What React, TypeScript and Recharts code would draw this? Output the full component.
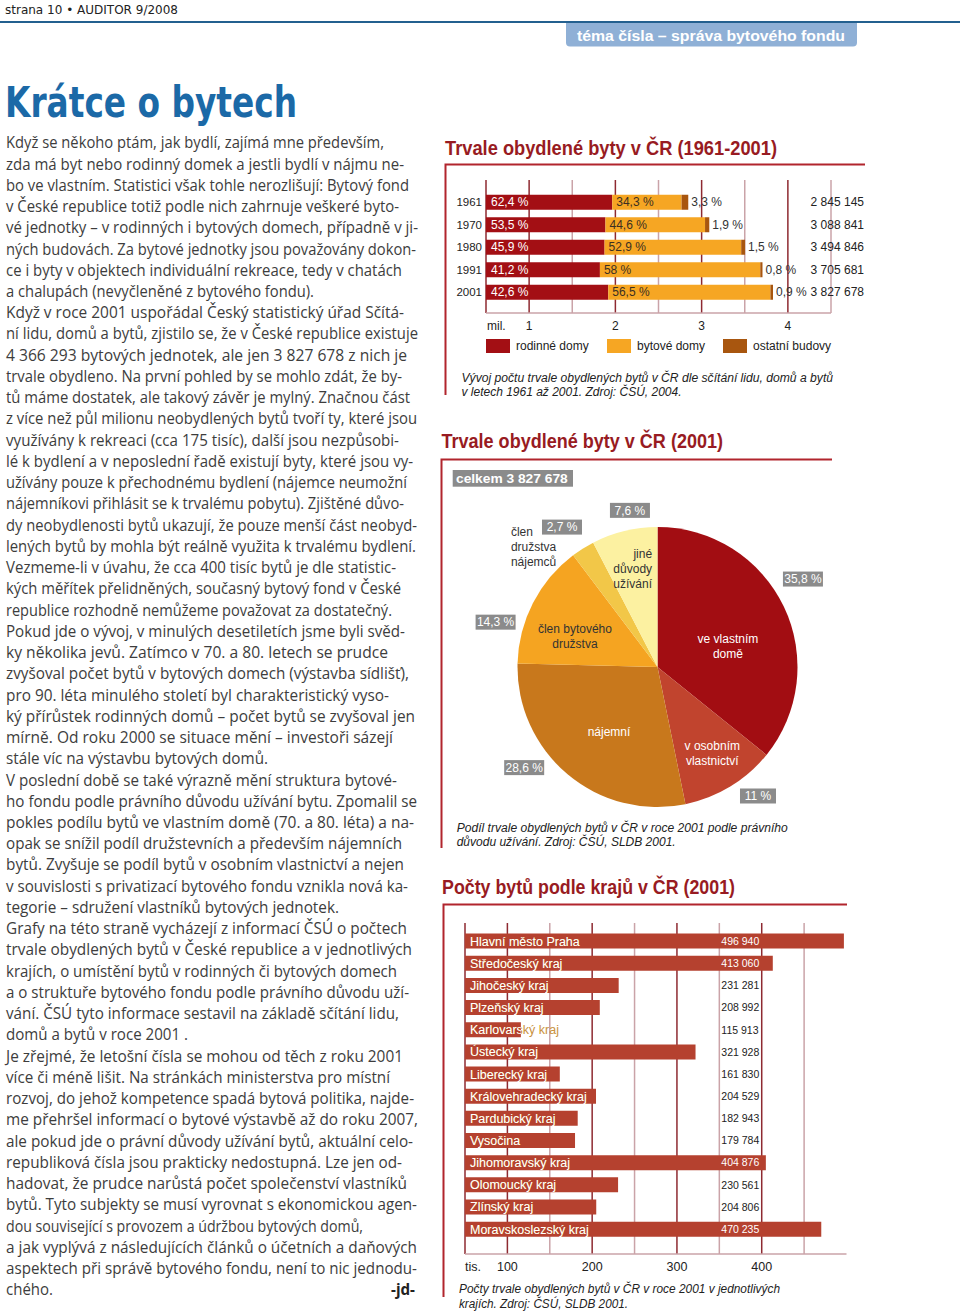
import React from "react"
import {
  BarChart,
  Bar,
  XAxis,
  YAxis,
  CartesianGrid,
  LabelList,
  Legend,
  PieChart,
  Pie,
  Cell,
} from "recharts"

const ARIAL = "'Liberation Sans', Arial, Helvetica, sans-serif"
const BODY = "'Open Sans', 'Noto Sans', sans-serif"
const NARROW = "'Liberation Sans Narrow', 'DejaVu Sans Condensed', 'Liberation Sans', sans-serif"
const GRID_DARK = "#8e2a31"
const GRID_LIGHT = "#caa3a8"
const FRAME = "#b1252d"
const TITLE_RED = "#981b22"
const BOX_GRAY = "#8b8b8b"

// Trvale obydlené byty v ČR (1961-2001)
const years = ["1961", "1970", "1980", "1991", "2001"]
const rodinneDomy = [62.4, 53.5, 45.9, 41.2, 42.6]
const bytoveDomy = [34.3, 44.6, 52.9, 58, 56.5]
const ostatniBudovy = [3.3, 1.9, 1.5, 0.8, 0.9]
const celkem = [2845145, 3088841, 3494846, 3705681, 3827678]
const milTicks = [0.5, 1, 1.5, 2, 2.5, 3, 3.5, 4, 4.5]

// Trvale obydlené byty v ČR (2001), podle právního důvodu užívání
const duvody = [
  "ve vlastním domě",
  "v osobním vlastnictví",
  "nájemní",
  "člen bytového družstva",
  "člen družstva nájemců",
  "jiné důvody užívání",
]
const podily = [35.8, 11, 28.6, 14.3, 2.7, 7.6]

// Počty bytů podle krajů v ČR (2001)
const kraje = [
  "Hlavní město Praha",
  "Středočeský kraj",
  "Jihočeský kraj",
  "Plzeňský kraj",
  "Karlovarský kraj",
  "Ústecký kraj",
  "Liberecký kraj",
  "Královehradecký kraj",
  "Pardubický kraj",
  "Vysočina",
  "Jihomoravský kraj",
  "Olomoucký kraj",
  "Zlínský kraj",
  "Moravskoslezský kraj",
]
const bytyKraje = [496940, 413060, 231281, 208992, 115913, 321928, 161830, 204529, 182943, 179784, 404876, 230561, 204806, 470235]
const tisTicks = [50, 100, 150, 200, 250, 300, 350, 400, 450]
const TIS_MAX = 500

const articleLines = [
  "Když se někoho ptám, jak bydlí, zajímá mne především,",
  "zda má byt nebo rodinný domek a jestli bydlí v nájmu ne-",
  "bo ve vlastním. Statistici však tohle nerozlišují: Bytový fond",
  "v České republice totiž podle nich zahrnuje veškeré byto-",
  "vé jednotky – v rodinných i bytových domech, případně v ji-",
  "ných budovách. Za bytové jednotky jsou považovány dokon-",
  "ce i byty v objektech individuální rekreace, tedy v chatách",
  "a chalupách (nevyčleněné z bytového fondu).",
  "Když v roce 2001 uspořádal Český statistický úřad Sčítá-",
  "ní lidu, domů a bytů, zjistilo se, že v České republice existuje",
  "4 366 293 bytových jednotek, ale jen 3 827 678 z nich je",
  "trvale obydleno. Na první pohled by se mohlo zdát, že by-",
  "tů máme dostatek, ale takový závěr je mylný. Značnou část",
  "z více než půl milionu neobydlených bytů tvoří ty, které jsou",
  "využívány k rekreaci (cca 175 tisíc), další jsou nezpůsobi-",
  "lé k bydlení a v neposlední řadě existují byty, které jsou vy-",
  "užívány pouze k přechodnému bydlení (nájemce neumožní",
  "nájemníkovi přihlásit se k trvalému pobytu). Zjištěné důvo-",
  "dy neobydlenosti bytů ukazují, že pouze menší část neobyd-",
  "lených bytů by mohla být reálně využita k trvalému bydlení.",
  "Vezmeme-li v úvahu, že cca 400 tisíc bytů je dle statistic-",
  "kých měřítek přelidněných, současný bytový fond v České",
  "republice rozhodně nemůžeme považovat za dostatečný.",
  "Pokud jde o vývoj, v minulých desetiletích jsme byli svěd-",
  "ky několika jevů. Zatímco v 70. a 80. letech se prudce",
  "zvyšoval počet bytů v bytových domech (výstavba sídlišť),",
  "pro 90. léta minulého století byl charakteristický vyso-",
  "ký přírůstek rodinných domů – počet bytů se zvyšoval jen",
  "mírně. Od roku 2000 se situace mění – investoři sázejí",
  "stále víc na výstavbu bytových domů.",
  "V poslední době se také výrazně mění struktura bytové-",
  "ho fondu podle právního důvodu užívání bytu. Zpomalil se",
  "pokles podílu bytů ve vlastním domě (70. a 80. léta) a na-",
  "opak se snížil podíl družstevních a především nájemních",
  "bytů. Zvyšuje se podíl bytů v osobním vlastnictví a nejen",
  "v souvislosti s privatizací bytového fondu vznikla nová ka-",
  "tegorie – sdružení vlastníků bytových jednotek.",
  "Grafy na této straně vycházejí z informací ČSÚ o počtech",
  "trvale obydlených bytů v České republice a v jednotlivých",
  "krajích, o umístění bytů v rodinných či bytových domech",
  "a o struktuře bytového fondu podle právního důvodu uží-",
  "vání. ČSÚ tyto informace sestavil na základě sčítání lidu,",
  "domů a bytů v roce 2001 .",
  "Je zřejmé, že letošní čísla se mohou od těch z roku 2001",
  "více či méně lišit. Na stránkách ministerstva pro místní",
  "rozvoj, do jehož kompetence spadá bytová politika, najde-",
  "me přehršel informací o bytové výstavbě až do roku 2007,",
  "ale pokud jde o právní důvody užívání bytů, aktuální celo-",
  "republiková čísla jsou prakticky nedostupná. Lze jen od-",
  "hadovat, že prudce narůstá počet společenství vlastníků",
  "bytů. Tyto subjekty se musí vyrovnat s ekonomickou agen-",
  "dou související s provozem a údržbou bytových domů,",
  "a jak vyplývá z následujících článků o účetních a daňových",
  "aspektech při správě bytového fondu, není to nic jednodu-",
  "chého.",
]
// right edge of each printed line (layout only)
const articleLineEnds = [
  384, 404, 409, 399, 418, 416, 402, 314, 404, 418, 407, 402, 410, 417, 399, 413, 407, 404, 417, 416,
  396, 401, 392, 405, 388, 409, 389, 415, 393, 268, 397, 417, 414, 402, 404, 408, 339, 407, 412, 397,
  409, 399, 188, 403, 390, 414, 418, 413, 402, 407, 417, 363, 417, 417, 53,
]

const fmtPct = (v: number) => `${String(v).replace(".", ",")} %`
const fmtNum = (n: number) => String(n).replace(/\B(?=(\d{3})+(?!\d))/g, " ")

// the first chart's bars start at the 0.5 mil. line; shares split the visible length
const MIL_FROM = 0.5
const vyvojData = years.map((rok, i) => {
  const span = celkem[i] / 1e6 - MIL_FROM
  return {
    rok,
    pR: rodinneDomy[i],
    pB: bytoveDomy[i],
    pO: ostatniBudovy[i],
    r: MIL_FROM + (span * rodinneDomy[i]) / 100,
    b: (span * bytoveDomy[i]) / 100,
    o: (span * ostatniBudovy[i]) / 100,
  }
})

const pieColors = ["#a20d12", "#c1442e", "#c8781c", "#f5a421", "#f2c748", "#fcf1a1"]
const pieData = duvody.map((name, i) => ({ name, value: podily[i] }))

const krajData = kraje.map((kraj, i) => ({
  kraj,
  byty: bytyKraje[i],
  tis: bytyKraje[i] / 1000,
}))

const vyvojSeries = [
  { key: "r", name: "rodinné domy", color: "#a30f14" },
  { key: "b", name: "bytové domy", color: "#f6a623" },
  { key: "o", name: "ostatní budovy", color: "#a8560f" },
]

// darker lines on whole units, lighter ones in between
const gridColor = (i: number) => (i === 0 || i % 2 === 1 ? GRID_DARK : GRID_LIGHT)

const gridLine = (props: any) => {
  const { x1, y1, x2, y2, index } = props
  return <line key={`g-${index}`} x1={x1} y1={y1} x2={x2} y2={y2} stroke={gridColor(index)} strokeWidth={1.5} />
}

// regions chart: no line at the plot's right edge (500), only at the ticks
const krajGridLine = (props: any) =>
  props.index >= tisTicks.length ? <g key={`g-${props.index}`} /> : gridLine(props)

const box = (p: any) => p.viewBox ?? p

const MilTick = ({ x, y, payload }: any) => {
  const v = payload.value
  const style = { fontFamily: ARIAL, fontSize: 12, fill: "#222" }
  if (v === MIL_FROM) {
    return (
      <text x={x + 1} y={y + 17} {...style}>
        mil.
      </text>
    )
  }
  if (Number.isInteger(v)) {
    return (
      <text x={x} y={y + 17} textAnchor="middle" {...style}>
        {v}
      </text>
    )
  }
  return <g />
}

const TotalTick = ({ x, y, payload }: any) => {
  const i = years.indexOf(payload.value)
  return (
    <text x={x + 33} y={y} dy="0.35em" textAnchor="end" fontFamily={ARIAL} fontSize={12} fill="#222">
      {fmtNum(celkem[i])}
    </text>
  )
}

const RodinneLabel = (props: any) => {
  const { x, y, height } = box(props)
  return (
    <text x={x + 5} y={y + height / 2} dy="0.35em" fontFamily={ARIAL} fontSize={12} fill="#fff">
      {fmtPct(props.value)}
    </text>
  )
}

const BytoveLabel = (props: any) => {
  const { x, y, height } = box(props)
  return (
    <text x={x + 4} y={y + height / 2} dy="0.35em" fontFamily={ARIAL} fontSize={12} fill="#3b2f22">
      {fmtPct(props.value)}
    </text>
  )
}

const OstatniLabel = (props: any) => {
  const { x, y, width, height } = box(props)
  return (
    <text x={x + width + 3} y={y + height / 2} dy="0.35em" fontFamily={ARIAL} fontSize={12} fill="#333">
      {fmtPct(props.value)}
    </text>
  )
}

const legendWidths = [121, 116, 130]
const VyvojLegend = () => (
  <div style={{ display: "flex", height: 16, alignItems: "center", fontFamily: ARIAL, fontSize: 12, color: "#222" }}>
    {vyvojSeries.map((s, i) => (
      <span key={s.key} style={{ display: "flex", alignItems: "center", width: legendWidths[i], whiteSpace: "nowrap" }}>
        <span style={{ display: "inline-block", width: 24, height: 14, background: s.color, marginRight: 6 }} />
        {s.name}
      </span>
    ))}
  </div>
)

const VyvojChart = () => (
  <BarChart
    width={440}
    height={184}
    data={vyvojData}
    layout="vertical"
    barSize={15}
    margin={{ top: 10, right: 0, bottom: 0, left: 0 }}
  >
    <CartesianGrid horizontal={false} vertical={gridLine} />
    <XAxis
      type="number"
      domain={[MIL_FROM, 4.5]}
      ticks={milTicks}
      interval={0}
      allowDataOverflow
      height={25}
      tickLine={false}
      tickSize={0}
      tickMargin={0}
      axisLine={{ stroke: GRID_LIGHT, strokeWidth: 1.5 }}
      tick={MilTick}
    />
    <YAxis
      type="category"
      dataKey="rok"
      width={46}
      interval={0}
      padding={{ top: 10.75, bottom: 9.75 }}
      axisLine={false}
      tickLine={false}
      tickSize={0}
      tickMargin={4}
      tick={{ fontFamily: ARIAL, fontSize: 11.5, fill: "#222" }}
    />
    <YAxis
      yAxisId="celkem"
      orientation="right"
      type="category"
      dataKey="rok"
      width={49}
      interval={0}
      padding={{ top: 10.75, bottom: 9.75 }}
      axisLine={false}
      tickLine={false}
      tickSize={0}
      tickMargin={0}
      tick={TotalTick}
    />
    <Legend verticalAlign="bottom" align="left" content={VyvojLegend} wrapperStyle={{ left: 46, bottom: 0, width: 394, height: 16 }} />
    <Bar dataKey="r" name="rodinné domy" stackId="a" fill={vyvojSeries[0].color} isAnimationActive={false}>
      <LabelList dataKey="pR" content={RodinneLabel} />
    </Bar>
    <Bar dataKey="b" name="bytové domy" stackId="a" fill={vyvojSeries[1].color} isAnimationActive={false}>
      <LabelList dataKey="pB" content={BytoveLabel} />
    </Bar>
    <Bar dataKey="o" name="ostatní budovy" stackId="a" fill={vyvojSeries[2].color} isAnimationActive={false}>
      <LabelList dataKey="pO" content={OstatniLabel} />
    </Bar>
  </BarChart>
)

// label placement around the pie: turn (deg, clockwise) and radius factor
const pieLabelLayout = [
  { boxTurn: -5.6, boxR: 1.214, textTurn: 9, textR: 0.525, anchor: "middle", color: "#fff", lines: ["ve vlastním", "domě"] },
  { boxTurn: -6.6, boxR: 1.168, textTurn: -1.1, textR: 0.73, anchor: "middle", color: "#fff", lines: ["v osobním", "vlastnictví"] },
  { boxTurn: 13, boxR: 1.193, textTurn: -3.3, textR: 0.58, anchor: "middle", color: "#fff", lines: ["nájemní"] },
  { boxTurn: -11.7, boxR: 1.2, textTurn: -6.6, textR: 0.63, anchor: "middle", color: "#333", lines: ["člen bytového", "družstva"] },
  { boxTurn: -2.1, boxR: 1.21, textTurn: -18.5, textR: 1.353, anchor: "start", color: "#333", lines: ["člen", "družstva", "nájemců"] },
  { boxTurn: 3.7, boxR: 1.136, textTurn: 10.5, textR: 0.7, anchor: "end", color: "#333", lines: ["jiné", "důvody", "užívání"] },
]

const RAD = Math.PI / 180
const polar = (cx: number, cy: number, r: number, angle: number) => ({
  x: cx + r * Math.cos(-angle * RAD),
  y: cy + r * Math.sin(-angle * RAD),
})

const PieLabel = (props: any) => {
  const { cx, cy, midAngle, outerRadius, index, value } = props
  const L = pieLabelLayout[index]
  const b = polar(cx, cy, outerRadius * L.boxR, midAngle - L.boxTurn)
  const t = polar(cx, cy, outerRadius * L.textR, midAngle - L.textTurn)
  const txt = fmtPct(value)
  const w = txt.length >= 5 ? 40 : 36
  const lh = 15
  return (
    <g>
      <rect x={b.x - w / 2} y={b.y - 7.5} width={w} height={15} fill={BOX_GRAY} />
      <text x={b.x} y={b.y} dy="0.36em" textAnchor="middle" fontFamily={ARIAL} fontSize={12} fill="#fff">
        {txt}
      </text>
      {L.lines.map((line, i) => (
        <text
          key={line}
          x={t.x}
          y={t.y + (i - (L.lines.length - 1) / 2) * lh}
          dy="0.36em"
          textAnchor={L.anchor}
          fontFamily={ARIAL}
          fontSize={12}
          fill={L.color}
        >
          {line}
        </text>
      ))}
    </g>
  )
}

const DuvodyChart = () => (
  <PieChart width={420} height={380} margin={{ top: 0, right: 0, bottom: 0, left: 0 }}>
    <Pie
      data={pieData}
      dataKey="value"
      nameKey="name"
      cx={216.5}
      cy={207}
      outerRadius={140}
      startAngle={90}
      endAngle={-270}
      stroke="none"
      label={PieLabel}
      labelLine={false}
      isAnimationActive={false}
    >
      {pieData.map((d, i) => (
        <Cell key={d.name} fill={pieColors[i]} />
      ))}
    </Pie>
  </PieChart>
)

const TisTick = ({ x, y, payload }: any) => {
  const v = payload.value
  const style = { fontFamily: ARIAL, fontSize: 12.5, fill: "#222" }
  if (v === tisTicks[0]) {
    return (
      <text x={x} y={y + 16.5} {...style}>
        tis.
      </text>
    )
  }
  if (v % 100 === 0) {
    return (
      <text x={x} y={y + 16.5} textAnchor="middle" {...style}>
        {v}
      </text>
    )
  }
  return <g />
}

const KrajName = (props: any) => {
  const { x, y, width, height } = box(props)
  const id = `kraj-clip-${props.index}`
  const common = { x: x + 5, y: y + height / 2, dy: "0.36em", fontFamily: ARIAL, fontSize: 12.5 }
  return (
    <g>
      <clipPath id={id}>
        <rect x={x} y={y - 4} width={width} height={height + 8} />
      </clipPath>
      <text {...common} fill="#c9923d">
        {props.value}
      </text>
      <text {...common} fill="#fff" clipPath={`url(#${id})`}>
        {props.value}
      </text>
    </g>
  )
}

const KrajValue = (props: any) => {
  const { x, y, width, height } = box(props)
  const d = krajData[props.index]
  const ppu = width / (d.tis - tisTicks[0])
  const col = x + (350 - tisTicks[0]) * ppu + 2
  const light = x + width > col + 36
  return (
    <text x={col} y={y + height / 2} dy="0.36em" fontFamily={ARIAL} fontSize={10.5} fill={light ? "#fff" : "#222"}>
      {fmtNum(props.value)}
    </text>
  )
}

const KrajeChart = () => (
  <BarChart
    width={420}
    height={364}
    data={krajData}
    layout="vertical"
    barSize={15}
    margin={{ top: 8, right: 16.5, bottom: 0, left: 0 }}
  >
    <CartesianGrid horizontal={false} vertical={krajGridLine} />
    <XAxis
      type="number"
      domain={[tisTicks[0], TIS_MAX]}
      ticks={tisTicks}
      interval={0}
      height={25}
      tickLine={false}
      tickSize={0}
      tickMargin={0}
      axisLine={{ stroke: GRID_LIGHT, strokeWidth: 1.5 }}
      tick={TisTick}
    />
    <YAxis
      type="category"
      dataKey="kraj"
      width={22}
      interval={0}
      tick={false}
      axisLine={false}
      tickLine={false}
      padding={{ top: 6.6, bottom: 14.2 }}
    />
    <Bar dataKey="tis" name="byty (tis.)" fill="#b5412f" isAnimationActive={false}>
      <LabelList dataKey="kraj" content={KrajName} />
      <LabelList dataKey="byty" content={KrajValue} />
    </Bar>
  </BarChart>
)

const Caption = ({ x, y, lines }: { x: number; y: number; lines: [string, number][] }) => (
  <g fontFamily={ARIAL} fontSize={12} fontStyle="italic" fill="#222">
    {lines.map(([t, w], i) => (
      <text key={t} x={x} y={y + i * 14.5} textLength={w} lengthAdjust="spacingAndGlyphs">
        {t}
      </text>
    ))}
  </g>
)

const ChartTitle = ({ x, y, w, children }: any) => (
  <text x={x} y={y} fontFamily={ARIAL} fontWeight="bold" fontSize={19.5} fill={TITLE_RED} textLength={w} lengthAdjust="spacingAndGlyphs">
    {children}
  </text>
)

const PageBackground = () => (
  <svg width={960} height={1313} style={{ position: "absolute", left: 0, top: 0 }}>
    <text x={5} y={13.5} fontFamily={NARROW} fontSize={12.5} fill="#222" textLength={173} lengthAdjust="spacingAndGlyphs">
      strana 10 • AUDITOR 9/2008
    </text>
    <line x1={0} x2={960} y1={22} y2={22} stroke="#23608f" strokeWidth={2} />
    <path d="M566 23 H857 V42.5 Q857 46.5 853 46.5 H570 Q566 46.5 566 42.5 Z" fill="#8fb0d6" />
    <text x={711} y={40.5} textAnchor="middle" fontFamily={ARIAL} fontWeight="bold" fontSize={15.5} fill="#fff" textLength={268} lengthAdjust="spacingAndGlyphs">
      téma čísla – správa bytového fondu
    </text>
    <text x={5} y={117} fontFamily={NARROW} fontWeight="bold" fontSize={42} fill="#1b69a7" textLength={292} lengthAdjust="spacingAndGlyphs">
      Krátce o bytech
    </text>

    <g fontFamily={BODY} fontSize={15.5} fill="#3d3d3d">
      {articleLines.map((line, i) => (
        <text key={i} x={6} y={148.3 + i * 21.24} textLength={articleLineEnds[i] - 6} lengthAdjust="spacingAndGlyphs">
          {line}
        </text>
      ))}
      <text x={391} y={148.3 + 54 * 21.24} fontWeight="bold" fill="#222" textLength={24} lengthAdjust="spacingAndGlyphs">
        -jd-
      </text>
    </g>

    <ChartTitle x={445} y={155} w={332}>
      Trvale obydlené byty v ČR (1961-2001)
    </ChartTitle>
    <polyline points="865,164.5 445.5,164.5 445.5,395" fill="none" stroke={FRAME} strokeWidth={2} />
    <Caption
      x={461.5}
      y={381.7}
      lines={[
        ["Vývoj počtu trvale obydlených bytů v ČR dle sčítání lidu, domů a bytů", 371.5],
        ["v letech 1961 až 2001. Zdroj: ČSÚ, 2004.", 220],
      ]}
    />

    <ChartTitle x={441.5} y={448.3} w={281.5}>
      Trvale obydlené byty v ČR (2001)
    </ChartTitle>
    <polyline points="832,459.5 441.5,459.5 441.5,848" fill="none" stroke={FRAME} strokeWidth={2} />
    <rect x={452.7} y={470} width={120.3} height={16.7} fill={BOX_GRAY} />
    <text x={456} y={483.2} fontFamily={ARIAL} fontWeight="bold" fontSize={13.5} fill="#fff" textLength={111.7} lengthAdjust="spacingAndGlyphs">
      celkem 3 827 678
    </text>
    <Caption
      x={456.7}
      y={831.7}
      lines={[
        ["Podíl trvale obydlených bytů v ČR v roce 2001 podle právního", 331],
        ["důvodu užívání. Zdroj: ČSÚ, SLDB 2001.", 219],
      ]}
    />

    <ChartTitle x={442} y={894} w={293}>
      Počty bytů podle krajů v ČR (2001)
    </ChartTitle>
    <polyline points="847,904.5 443.5,904.5 443.5,1297" fill="none" stroke={FRAME} strokeWidth={2} />
    <Caption
      x={459}
      y={1293}
      lines={[
        ["Počty trvale obydlených bytů v ČR v roce 2001 v jednotlivých", 321],
        ["krajích. Zdroj: ČSÚ, SLDB 2001.", 169],
      ]}
    />
  </svg>
)

export default function App() {
  return (
    <div style={{ position: "absolute", left: 0, top: 0, width: 960, height: 1313, background: "#fff", overflow: "hidden" }}>
      <PageBackground />
      <div style={{ position: "absolute", left: 440, top: 170 }}>
        <VyvojChart />
      </div>
      <div style={{ position: "absolute", left: 441, top: 460 }}>
        <DuvodyChart />
      </div>
      <div style={{ position: "absolute", left: 443, top: 915 }}>
        <KrajeChart />
      </div>
    </div>
  )
}
